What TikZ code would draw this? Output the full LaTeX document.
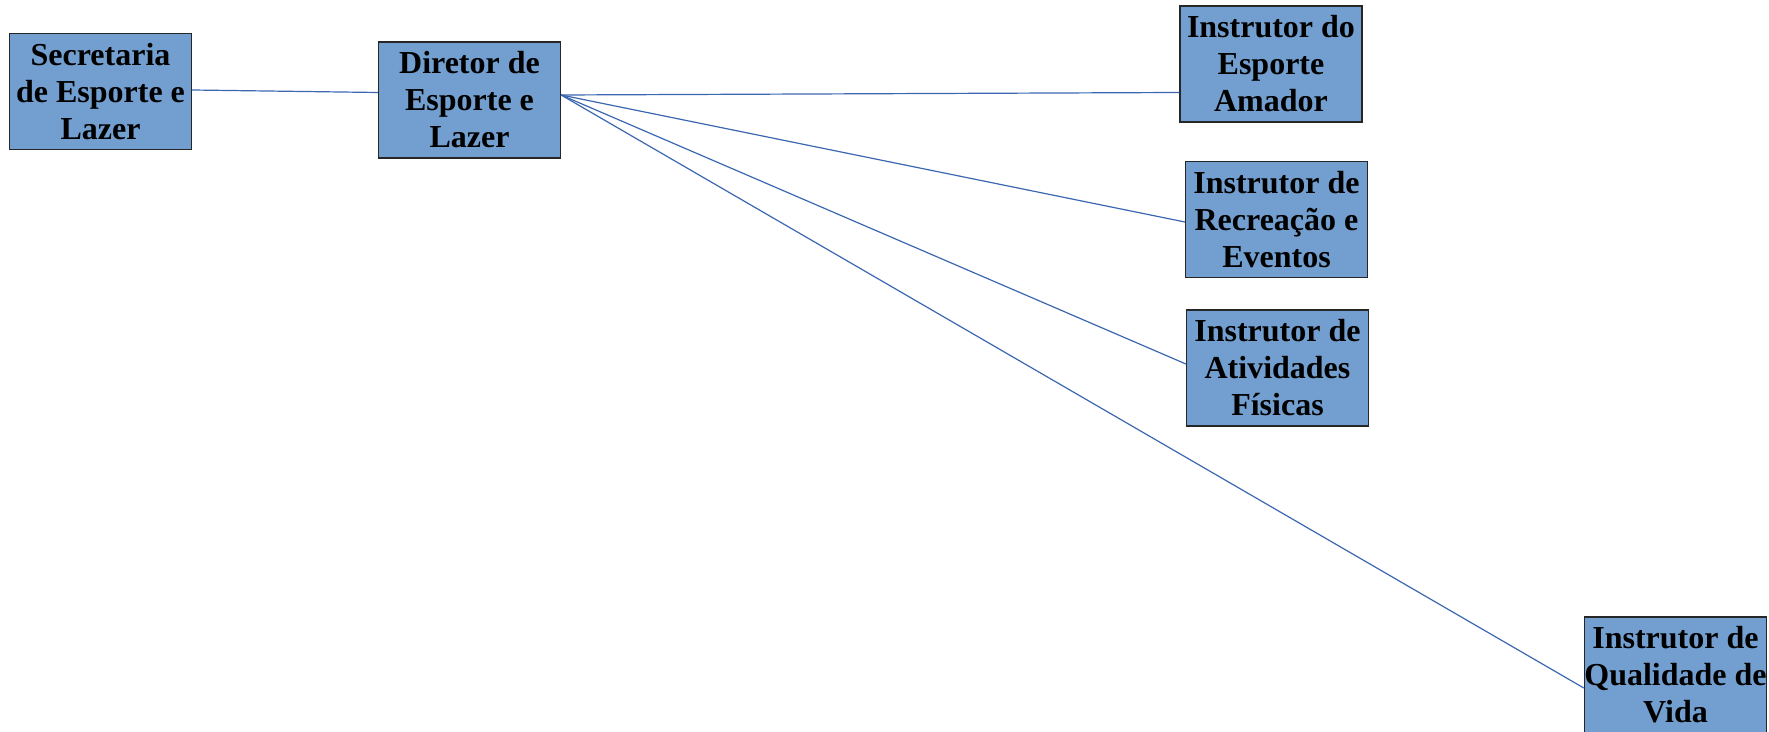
\documentclass[tikz,border=0pt]{standalone}
\usepackage{fontspec}
\setmainfont{Liberation Serif}
\begin{document}
\begin{tikzpicture}[x=0.5pt,y=-0.5pt,
  unit/.style={draw=black!85, line width=0.6pt, fill=boxfill, rectangle,
    minimum width=91pt, minimum height=58pt, inner sep=0pt, align=center,
    font=\fontsize{16}{18.5}\selectfont\bfseries},
  link/.style={draw=linkblue, line width=0.6pt}]
\definecolor{boxfill}{HTML}{729FCF}
\definecolor{linkblue}{HTML}{3B67B0}
\useasboundingbox (0,0) rectangle (1769,732);

% organisation units
\node[unit] (sec) at (100.5,91.5) {Secretaria\\de Esporte e\\Lazer};
\node[unit] (dir) at (469.5,100) {Diretor de\\Esporte e\\Lazer};
\node[unit] (ama) at (1271,64) {Instrutor do\\Esporte\\Amador};
\node[unit] (rec) at (1276.5,219.5) {Instrutor de\\Recreação e\\Eventos};
\node[unit] (ati) at (1277.5,368) {Instrutor de\\Atividades\\Físicas};
\node[unit] (qua) at (1675.5,675) {Instrutor de\\Qualidade de\\Vida};

% reporting lines
\draw[link] ([yshift=0.75pt]sec.east) -- ([yshift=3.75pt]dir.west);
\draw[link] ([yshift=2.5pt]dir.east) -- ([yshift=-14.25pt]ama.west);
\draw[link] ([yshift=2.5pt]dir.east) -- ([yshift=-1.25pt]rec.west);
\draw[link] ([yshift=2.5pt]dir.east) -- ([yshift=2pt]ati.west);
\draw[link] ([yshift=2.5pt]dir.east) -- ([yshift=-6.5pt]qua.west);
\end{tikzpicture}
\end{document}
